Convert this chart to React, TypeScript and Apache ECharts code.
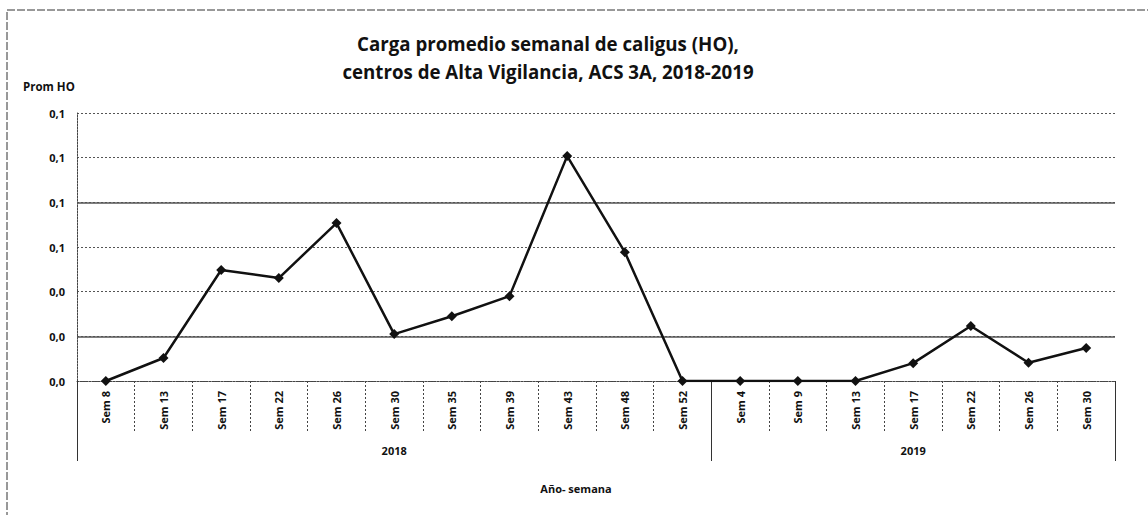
import { useEffect, useRef } from 'react';
import * as echarts from 'echarts';

const categories = ['Sem 8', 'Sem 13', 'Sem 17', 'Sem 22', 'Sem 26', 'Sem 30', 'Sem 35', 'Sem 39', 'Sem 43', 'Sem 48', 'Sem 52', 'Sem 4', 'Sem 9', 'Sem 13', 'Sem 17', 'Sem 22', 'Sem 26', 'Sem 30'];
const values = [0, 0.0103, 0.0497, 0.0461, 0.0707, 0.021, 0.029, 0.038, 0.1007, 0.0577, 0, 0, 0, 0, 0.008, 0.0246, 0.0082, 0.0148];
const years = ['2018', '2019'];
const weeksPerYear = [11, 7];
const solidGridValues = [0.02, 0.08];
const titleLines = ['Carga promedio semanal de caligus (HO),', 'centros de Alta Vigilancia, ACS 3A, 2018-2019'];
const yAxisTitle = 'Prom HO';
const xAxisTitle = 'Año- semana';

const FONT = '"Open Sans", "Liberation Sans", sans-serif';

export default function App() {
  const ref = useRef<HTMLDivElement>(null);
  useEffect(() => {
    document.body.style.margin = '0';
    if (!ref.current) return;
    const chart = echarts.init(ref.current, null, { renderer: 'svg' });

    const yearLabels: string[] = categories.map(() => '');
    const boundaries: number[] = [];
    let start = 0;
    weeksPerYear.forEach((n, gi) => {
      boundaries.push(start);
      yearLabels[start + Math.floor((n - 1) / 2)] = years[gi];
      start += n;
    });

    chart.setOption({
      animation: false,
      backgroundColor: '#fff',
      grid: { left: 77, right: 33, top: 113, bottom: 134, containLabel: false },
      graphic: [
        {
          type: 'rect',
          shape: { x: 7, y: 10, width: 1180, height: 540 },
          style: { fill: 'none', stroke: '#333', lineWidth: 1, lineDash: [8, 2] },
          silent: true,
        },
        {
          type: 'text', x: 548, y: 43,
          style: { text: titleLines[0], textAlign: 'center', textVerticalAlign: 'middle', font: `bold 18.7px ${FONT}`, fill: '#111' },
        },
        {
          type: 'text', x: 548, y: 71,
          style: { text: titleLines[1], textAlign: 'center', textVerticalAlign: 'middle', font: `bold 18.7px ${FONT}`, fill: '#111' },
        },
        {
          type: 'text', x: 23, y: 86,
          style: { text: yAxisTitle, textAlign: 'left', textVerticalAlign: 'middle', font: `bold 11.5px ${FONT}`, fill: '#111' },
        },
        {
          type: 'text', x: 576, y: 488,
          style: { text: xAxisTitle, textAlign: 'center', textVerticalAlign: 'middle', font: `bold 11px ${FONT}`, fill: '#111' },
        },
      ],
      xAxis: [
        {
          type: 'category',
          data: categories,
          boundaryGap: true,
          position: 'bottom',
          axisLine: { show: true, lineStyle: { color: '#444', type: [2, 1], width: 1 } },
          axisTick: { show: true, interval: 0, length: 52, lineStyle: { color: '#444', type: [2, 2] } },
          axisLabel: { interval: 0, rotate: 90, margin: 10, fontFamily: FONT, fontWeight: 'bold', fontSize: 11, color: '#111' },
          splitLine: { show: false },
        },
        {
          type: 'category',
          data: categories,
          boundaryGap: true,
          position: 'bottom',
          axisLine: { show: false },
          axisTick: {
            show: true,
            interval: (index: number) => boundaries.indexOf(index) >= 0,
            length: 80,
            lineStyle: { color: '#333', width: 1 },
          },
          axisLabel: {
            interval: 0,
            margin: 64,
            formatter: (_v: string, i: number) => yearLabels[i],
            fontFamily: FONT, fontWeight: 'bold', fontSize: 11, color: '#111',
          },
          splitLine: { show: false },
        },
      ],
      yAxis: {
        type: 'value',
        min: 0,
        max: 0.12,
        interval: 0.02,
        axisLine: { show: true, lineStyle: { color: '#444', type: [2, 1] } },
        axisTick: { show: false },
        axisLabel: {
          margin: 12,
          formatter: (v: number) => v.toFixed(1).replace('.', ','),
          fontFamily: FONT, fontWeight: 'bold', fontSize: 11, color: '#111',
        },
        splitLine: { show: true, lineStyle: { color: '#555', type: [2, 2], width: 1 } },
      },
      series: [
        {
          type: 'line',
          data: values,
          xAxisIndex: 0,
          symbol: 'diamond',
          symbolSize: 10,
          itemStyle: { color: '#111' },
          lineStyle: { color: '#111', width: 2.5 },
          z: 5,
          markLine: {
            silent: true,
            symbol: 'none',
            label: { show: false },
            lineStyle: { color: '#555', type: 'solid', width: 1.5 },
            data: solidGridValues.map((v) => ({ yAxis: v })),
            z: 1,
          },
        },
      ],
    });
    return () => chart.dispose();
  }, []);
  return <div ref={ref} style={{ width: 1148, height: 515 }} />;
}
